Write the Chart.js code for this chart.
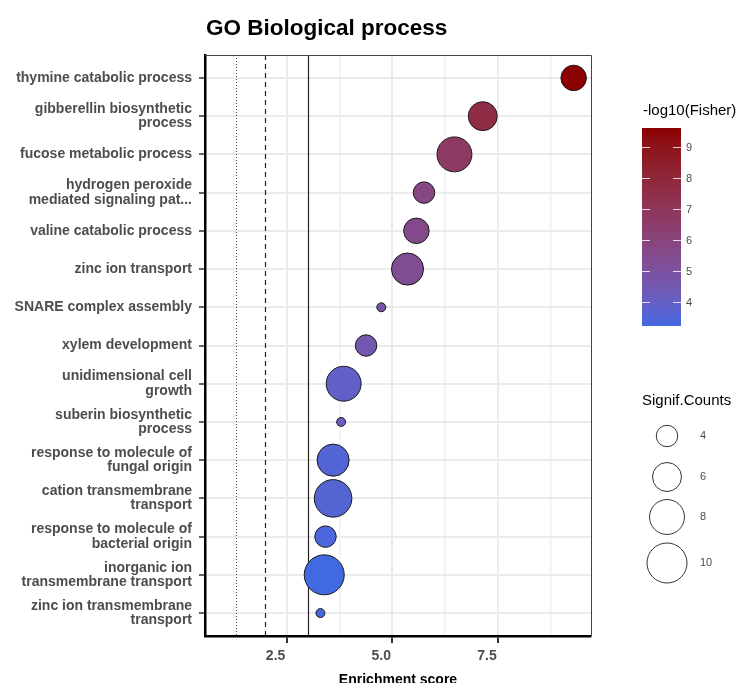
<!DOCTYPE html>
<html>
<head>
<meta charset="utf-8">
<script src="https://cdn.jsdelivr.net/npm/chart.js@4"></script>
<style>
  html, body { margin: 0; padding: 0; background: #fff; }
</style>
</head>
<body>
<canvas id="myChart" width="743" height="683"></canvas>
<script>
// GO terms, top to bottom ("\n" = line break in the label)
var categories = [
  'thymine catabolic process',
  'gibberellin biosynthetic\nprocess',
  'fucose metabolic process',
  'hydrogen peroxide\nmediated signaling pat...',
  'valine catabolic process',
  'zinc ion transport',
  'SNARE complex assembly',
  'xylem development',
  'unidimensional cell\ngrowth',
  'suberin biosynthetic\nprocess',
  'response to molecule of\nfungal origin',
  'cation transmembrane\ntransport',
  'response to molecule of\nbacterial origin',
  'inorganic ion\ntransmembrane transport',
  'zinc ion transmembrane\ntransport'
];
var enrichment = [9.29, 7.14, 6.47, 5.75, 5.57, 5.36, 4.74, 4.38, 3.85, 3.79, 3.6, 3.6, 3.42, 3.39, 3.3];
var fisher     = [9.6, 7.6, 6.7, 5.8, 5.6, 5.3, 4.8, 4.6, 3.9, 4.1, 3.55, 3.6, 3.4, 3.23, 3.3];
var counts     = [5, 6, 8, 4, 5, 7, 2, 4, 8, 2, 7, 9, 4, 10, 2];

// axis ticks
var xTicks = [1.25, 2.5, 3.75, 5, 6.25, 7.5, 8.75];
var xMajor = [2.5, 5, 7.5];
var fisherTicks = [4, 5, 6, 7, 8, 9];
var countTicks = [4, 6, 8, 10];
// significance cut-offs: -log10(0.05), -log10(0.01), -log10(0.001)
var refLines = [1.301, 2, 3];

var LOW = [65, 105, 225];   // royalblue
var HIGH = [139, 0, 0];     // darkred
var fMin = Math.min.apply(null, fisher), fMax = Math.max.apply(null, fisher);

// colour helpers, interpolation in Lab like ggplot
function toLin(c) { c /= 255; return c <= 0.04045 ? c / 12.92 : Math.pow((c + 0.055) / 1.055, 2.4); }
function fromLin(c) { c = c <= 0.0031308 ? 12.92 * c : 1.055 * Math.pow(c, 1 / 2.4) - 0.055; return Math.max(0, Math.min(255, Math.round(c * 255))); }
var WX = 0.95047, WY = 1.0, WZ = 1.08883;
function rgb2lab(rgb) {
  var r = toLin(rgb[0]), g = toLin(rgb[1]), b = toLin(rgb[2]);
  var x = (r * 0.4124 + g * 0.3576 + b * 0.1805) / WX;
  var y = (r * 0.2126 + g * 0.7152 + b * 0.0722) / WY;
  var z = (r * 0.0193 + g * 0.1192 + b * 0.9505) / WZ;
  var f = function (t) { return t > 0.008856 ? Math.cbrt(t) : 7.787 * t + 16 / 116; };
  var fx = f(x), fy = f(y), fz = f(z);
  return [116 * fy - 16, 500 * (fx - fy), 200 * (fy - fz)];
}
function lab2rgb(lab) {
  var fy = (lab[0] + 16) / 116, fx = fy + lab[1] / 500, fz = fy - lab[2] / 200;
  var inv = function (t) { return t * t * t > 0.008856 ? t * t * t : (t - 16 / 116) / 7.787; };
  var x = inv(fx) * WX, y = inv(fy) * WY, z = inv(fz) * WZ;
  var r = x * 3.2406 + y * -1.5372 + z * -0.4986;
  var g = x * -0.9689 + y * 1.8758 + z * 0.0415;
  var b = x * 0.0557 + y * -0.2040 + z * 1.0570;
  return [fromLin(r), fromLin(g), fromLin(b)];
}
var labLow = rgb2lab(LOW), labHigh = rgb2lab(HIGH);
function fisherColor(v) {
  var t = (v - fMin) / (fMax - fMin);
  var lab = [0, 1, 2].map(function (k) { return labLow[k] + t * (labHigh[k] - labLow[k]); });
  var c = lab2rgb(lab);
  return 'rgb(' + c[0] + ',' + c[1] + ',' + c[2] + ')';
}
// bubble radius from count (area ~ count)
function sizeScale(c) { return Math.sqrt(47.5 * c - 75); }

var points = enrichment.map(function (x, i) { return { x: x, y: i, r: sizeScale(counts[i]) }; });

var FONT = '"Liberation Sans", Arial, sans-serif';

var decor = {
  id: 'decor',
  beforeDatasetsDraw: function (chart) {
    var ctx = chart.ctx, a = chart.chartArea, xs = chart.scales.x;
    ctx.save();
    ctx.strokeStyle = '#222';
    refLines.forEach(function (v, i) {
      var px = Math.round(xs.getPixelForValue(v)) + 0.5;
      ctx.lineWidth = i === 0 ? 0.8 : 1.2;
      ctx.setLineDash(i === 0 ? [1, 2] : (i === 1 ? [5, 4] : []));
      ctx.beginPath(); ctx.moveTo(px, a.top); ctx.lineTo(px, a.bottom); ctx.stroke();
    });
    ctx.restore();
  },
  afterDraw: function (chart) {
    var ctx = chart.ctx, a = chart.chartArea;
    ctx.save();
    // thin top / right panel border
    ctx.strokeStyle = '#444'; ctx.lineWidth = 1;
    ctx.beginPath();
    ctx.moveTo(a.left, a.top + 0.5); ctx.lineTo(a.right + 0.5, a.top + 0.5); ctx.lineTo(a.right + 0.5, a.bottom);
    ctx.stroke();

    // title
    ctx.fillStyle = '#000';
    ctx.textAlign = 'left'; ctx.textBaseline = 'alphabetic';
    ctx.font = 'bold 22.5px ' + FONT;
    ctx.fillText('GO Biological process', 206, 35);

    // x axis title
    ctx.textAlign = 'center';
    ctx.font = 'bold 14px ' + FONT;
    ctx.fillText('Enrichment score', (a.left + a.right) / 2, 684);

    // colour bar
    var bx = 642, bw = 39, top = 128, bot = 326;
    var pxPerUnit = (bot - top) / (fMax - fMin);
    ctx.textAlign = 'left';
    ctx.font = '15px ' + FONT;
    ctx.fillText('-log10(Fisher)', 643, 114.5);
    for (var y = top; y < bot; y++) {
      var v = fMax - (y - top + 0.5) / pxPerUnit;
      ctx.fillStyle = fisherColor(v);
      ctx.fillRect(bx, y, bw, 1);
    }
    ctx.font = '11px ' + FONT;
    ctx.textBaseline = 'middle';
    fisherTicks.forEach(function (t) {
      var ty = Math.round(bot - (t - fMin) * pxPerUnit) + 0.5;
      ctx.strokeStyle = 'rgba(255,255,255,0.8)'; ctx.lineWidth = 1;
      ctx.beginPath();
      ctx.moveTo(bx, ty); ctx.lineTo(bx + 8, ty);
      ctx.moveTo(bx + bw - 8, ty); ctx.lineTo(bx + bw, ty);
      ctx.stroke();
      ctx.fillStyle = '#4d4d4d';
      ctx.fillText(String(t), 686, ty);
    });

    // size legend
    ctx.fillStyle = '#000';
    ctx.textBaseline = 'alphabetic';
    ctx.font = '15px ' + FONT;
    ctx.fillText('Signif.Counts', 642, 405);
    var ys = [436, 477, 517, 563];
    ctx.font = '11px ' + FONT;
    ctx.textBaseline = 'middle';
    countTicks.forEach(function (c, i) {
      ctx.beginPath();
      ctx.arc(667, ys[i], sizeScale(c), 0, Math.PI * 2);
      ctx.fillStyle = '#fff'; ctx.fill();
      ctx.strokeStyle = '#333'; ctx.lineWidth = 1; ctx.stroke();
      ctx.fillStyle = '#4d4d4d';
      ctx.fillText(String(c), 700, ys[i]);
    });
    ctx.restore();
  }
};

var ctx = document.getElementById('myChart');
var myChart = new Chart(ctx, {
  type: 'bubble',
  data: {
    datasets: [{
      data: points,
      backgroundColor: fisher.map(fisherColor),
      borderColor: '#1a1a1a',
      borderWidth: 1,
      hoverRadius: 0
    }]
  },
  options: {
    responsive: false,
    animation: false,
    events: [],
    layout: { padding: { top: 55, right: 152, bottom: 0, left: 0 } },
    plugins: { legend: { display: false }, tooltip: { enabled: false } },
    scales: {
      x: {
        type: 'linear',
        min: 0.57,
        max: 9.7,
        afterBuildTicks: function (scale) { scale.ticks = xTicks.map(function (v) { return { value: v }; }); },
        afterFit: function (scale) { scale.height = 47; },
        grid: {
          color: function (c) { return xMajor.indexOf(c.tick.value) >= 0 ? '#ebebeb' : '#f1f1f1'; },
          lineWidth: function (c) { return xMajor.indexOf(c.tick.value) >= 0 ? 2 : 1.5; },
          tickColor: function (c) { return xMajor.indexOf(c.tick.value) >= 0 ? '#333' : 'rgba(0,0,0,0)'; },
          tickWidth: 2,
          tickLength: 7
        },
        border: { color: '#000', width: 2.5 },
        ticks: {
          autoSkip: false,
          maxRotation: 0,
          padding: 5,
          labelOffset: -11,
          color: '#4d4d4d',
          font: { family: FONT, size: 14, weight: 'bold' },
          callback: function (v) { return xMajor.indexOf(v) >= 0 ? v.toFixed(1) : ''; }
        }
      },
      y: {
        type: 'linear',
        reverse: true,
        min: -0.6,
        max: categories.length - 0.4,
        afterBuildTicks: function (scale) { scale.ticks = categories.map(function (c, i) { return { value: i }; }); },
        afterFit: function (scale) { scale.width = 205; },
        grid: {
          color: '#ebebeb',
          lineWidth: 2,
          tickColor: '#333',
          tickWidth: 1.5,
          tickLength: 6
        },
        border: { color: '#000', width: 2.5 },
        ticks: {
          autoSkip: false,
          padding: 7,
          color: '#4d4d4d',
          font: { family: FONT, size: 14, weight: 'bold', lineHeight: 1.02 },
          callback: function (v) { return categories[v].split('\n'); }
        }
      }
    }
  },
  plugins: [decor]
});
</script>
</body>
</html>
